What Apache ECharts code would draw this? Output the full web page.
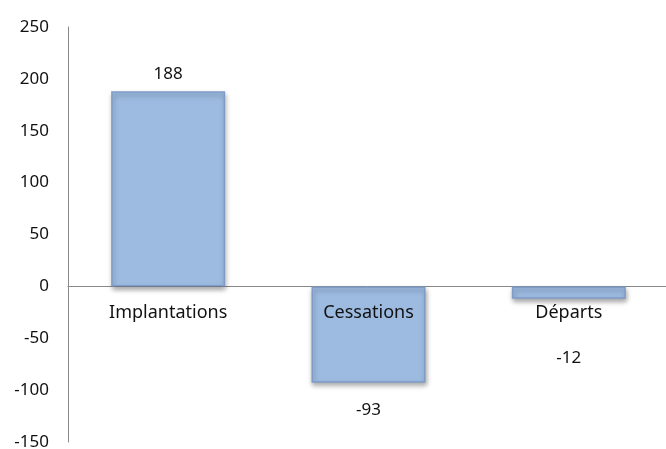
<!DOCTYPE html>
<html>
<head>
<meta charset="utf-8">
<script src="https://cdn.jsdelivr.net/npm/echarts@6/dist/echarts.min.js"></script>
<style>
  html, body { margin: 0; padding: 0; background: #fff; }
  #chart { width: 666px; height: 449px; }
</style>
</head>
<body>
<div id="chart"></div>
<script>
// données
const categories = ['Implantations', 'Cessations', 'Départs']
const values = [188, -93, -12]
const yMin = -150
const yMax = 250
const yStep = 50

// position des étiquettes de valeur (par barre)
const labelPos = [
  { position: 'top', distance: 9 },
  { position: 'bottom', distance: 19 },
  { position: 'bottom', distance: 51 }
]

const chart = echarts.init(document.getElementById('chart'))
const font = 'Noto Sans'

const option = {
  animation: false,
  grid: { left: 68, right: -3, top: 27, bottom: 7, containLabel: false, outerBoundsMode: 'none' },
  xAxis: {
    type: 'category',
    data: categories,
    axisLine: { onZero: true, lineStyle: { color: '#898989', width: 1 } },
    axisTick: { show: false },
    axisLabel: { show: false },
    splitLine: { show: false }
  },
  yAxis: {
    type: 'value',
    min: yMin,
    max: yMax,
    interval: yStep,
    axisLine: { show: true, lineStyle: { color: '#898989', width: 1 } },
    axisTick: { show: false },
    axisLabel: { color: '#111', fontSize: 17, fontFamily: font, margin: 19 },
    splitLine: { show: false }
  },
  series: [{
    type: 'bar',
    barWidth: 114,
    z: 1,
    data: values.map((v, i) => ({
      value: v,
      label: { show: true, ...labelPos[i] }
    })),
    label: { color: '#111', fontSize: 17, fontFamily: font },
    itemStyle: {
      color: '#9dbbe1',
      borderColor: '#7f9cc6',
      borderWidth: 1.5,
      shadowColor: 'rgba(0,0,0,0.35)',
      shadowBlur: 5,
      shadowOffsetX: 1,
      shadowOffsetY: 3
    }
  }, {
    // noms des catégories posés sur la ligne du zéro
    type: 'scatter',
    silent: true,
    z: 5,
    symbolSize: 0,
    itemStyle: { opacity: 1 },
    data: categories.map(c => [c, 0]),
    label: {
      show: true,
      position: 'bottom',
      distance: 17,
      formatter: p => p.data[0],
      color: '#111',
      fontSize: 18,
      fontFamily: font
    }
  }]
}
chart.setOption(option)
</script>
</body>
</html>
